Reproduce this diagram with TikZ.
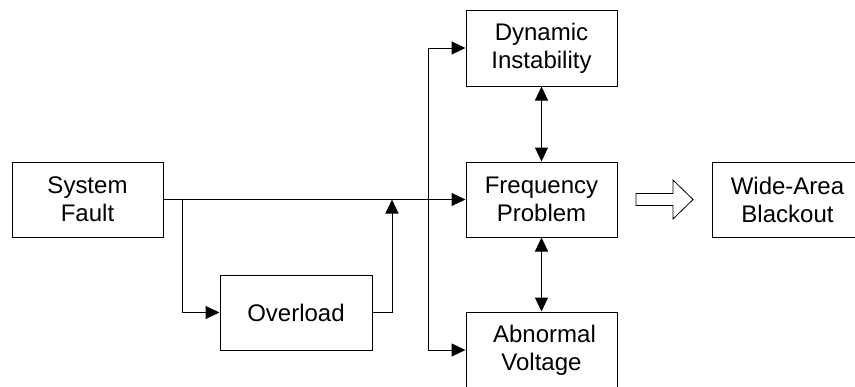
\documentclass[tikz,border=0pt]{standalone}
\usepackage{fontspec}
\setmainfont{Liberation Sans}
\usetikzlibrary{arrows.meta}
\begin{document}
\begin{tikzpicture}[x=1pt,y=-1pt,
  box/.style={draw=black,line width=1pt,minimum width=151pt,minimum height=75pt,inner sep=0pt,align=center,font=\fontsize{24}{28}\selectfont},
  conn/.style={line width=1pt,-{Triangle[length=14pt,width=13pt]}},
  conn2/.style={line width=1pt,{Triangle[length=14pt,width=13pt]}-{Triangle[length=14pt,width=13pt]}}]
\useasboundingbox (0,0) rectangle (855,386);
\clip (0,0) rectangle (855,386);
\node[box] (sf) at (87.5,199.5) {System\\Fault};
\node[box,minimum width=152pt] (ov) at (296,312.5) {Overload};
\node[box,minimum height=76pt] (dyn) at (541.5,48) {Dynamic\\Instability};
\node[box] (freq) at (541.5,199.5) {Frequency\\Problem};
\node[box,minimum height=76pt] (ab) at (541.5,350) {\hspace*{6pt}Abnormal\\Voltage};
\node[box] (wa) at (787.5,199.5) {Wide-Area\\Blackout};
\coordinate (j1) at (182,199.5);
\coordinate (j2) at (392,199.5);
\coordinate (v) at (428,199.5);
\draw[conn] (sf.east) -- (freq.west);
\draw[conn] (j1) |- (ov.west);
\draw[conn] (ov.east) -| (j2);
\draw[conn] (v) |- (dyn.west);
\draw[conn] (v) |- (ab.west);
\draw[conn2] (dyn.south) -- (freq.north);
\draw[conn2] (freq.south) -- (ab.north);
\draw[line width=0.8pt,fill=white] (636,193.5) -- (673,193.5) -- (673,180) -- (693,199.5) -- (673,219) -- (673,205.5) -- (636,205.5) -- cycle;
\end{tikzpicture}
\end{document}
